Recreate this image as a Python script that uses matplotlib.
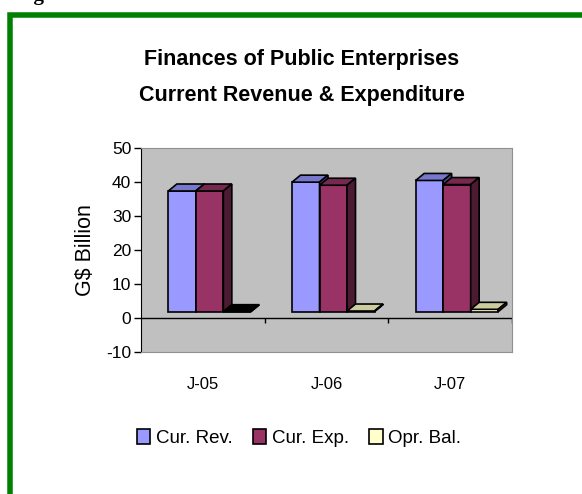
import numpy as np
import matplotlib
matplotlib.use("Agg")
import matplotlib.pyplot as plt
from matplotlib.patches import Polygon, Rectangle, Patch

plt.rcParams['font.family'] = ['Liberation Sans', 'DejaVu Sans']
plt.rcParams['axes.unicode_minus'] = False

# data
categories = ["J-05", "J-06", "J-07"]
series_names = ["Cur. Rev.", "Cur. Exp.", "Opr. Bal."]
cur_rev = [35.5, 38.1, 38.6]
cur_exp = [35.5, 37.2, 37.4]
opr_bal = [-0.1, 0.2, 0.7]
y_ticks = [-10, 0, 10, 20, 30, 40, 50]

# colours: front, top, side
face_cols = [("#9999FF", "#7777CC", "#4C4C80"),
             ("#993366", "#77284F", "#4D1A33"),
             ("#FFFFCC", "#CCCCA0", "#80806A")]

W, H = 582, 494
fig = plt.figure(figsize=(W / 100, H / 100), dpi=100)
fig.patch.set_facecolor("white")

# axes placed in pixels
l, r, t, b = 141, 512, 148, 352
ax = fig.add_axes([l / W, 1 - b / H, (r - l) / W, (b - t) / H])
ax.set_facecolor("#C0C0C0")
ax.set_xlim(-0.5, 2.5)
ax.set_ylim(-10, 50)

# pixel -> data scale
px_x = (r - l) / 3.0
px_y = (b - t) / 60.0
dx = 8.5 / px_x
dy = 7.0 / px_y
floor = 6.3 / px_y
bw = 27.5 / px_x
start = -34.5 / px_x

values = [cur_rev, cur_exp, opr_bal]
for i in range(len(categories)):
    for s in range(3):
        v = values[s][i]
        x0 = i + start + s * bw
        x1 = x0 + bw
        y0 = floor
        y1 = floor + v
        front, top, side = face_cols[s]
        if v <= 0:
            top = "black"
            side = "black"
            y1 = floor
        ax.add_patch(Rectangle((x0, y0), bw, y1 - y0, facecolor=front,
                               edgecolor="black", lw=1.2, zorder=3))
        ax.add_patch(Polygon([(x0, y1), (x1, y1), (x1 + dx, y1 + dy), (x0 + dx, y1 + dy)],
                             closed=True, facecolor=top, edgecolor="black", lw=1.2, zorder=3))
        ax.add_patch(Polygon([(x1, y0), (x1 + dx, y0 + dy), (x1 + dx, y1 + dy), (x1, y1)],
                             closed=True, facecolor=side, edgecolor="black", lw=1.2, zorder=3))

# zero line and category ticks
ax.axhline(0, color="black", lw=1, zorder=2)
ax.vlines([0.5, 1.5, 2.5], -5 / px_y, 0, color="black", lw=1, zorder=2)

ax.set_yticks(y_ticks)
ax.set_xticks(range(len(categories)))
ax.set_xticklabels(categories, fontsize=12)
ax.tick_params(axis="x", length=0, pad=18)
ax.tick_params(axis="y", length=5, width=1, labelsize=12.5, pad=2)
for side_name in ["top", "right", "bottom"]:
    ax.spines[side_name].set_color("#909090")
ax.spines["left"].set_color("black")
ax.set_ylabel("G$ Billion", fontsize=15.5, labelpad=7)

fig.text(302 / W, 1 - 60 / H, "Finances of Public Enterprises", ha="center", va="center",
         fontsize=15.5, fontweight="bold")
fig.text(302 / W, 1 - 95 / H, "Current Revenue & Expenditure", ha="center", va="center",
         fontsize=15.5, fontweight="bold")

handles = [Patch(facecolor=face_cols[s][0], edgecolor="black", lw=1.2) for s in range(3)]
fig.legend(handles, series_names, loc="center", bbox_to_anchor=(299 / W, 1 - 438 / H),
           ncol=3, frameon=False, fontsize=13.5, handlelength=0.7, handleheight=0.9,
           handletextpad=0.3, columnspacing=1.1)

# green frame, partly outside the image
fig.patches.append(Rectangle((10 / W, -0.2), 2.0, 1.2 - 14.5 / H, transform=fig.transFigure,
                             facecolor="none", edgecolor="#008000", lw=5.5 * 0.72))
fig.text(16 / W, 1.0, "Figure", ha="left", va="baseline", fontsize=15,
         fontweight="bold", family="Liberation Serif")

fig.savefig("out.png", dpi=100)
